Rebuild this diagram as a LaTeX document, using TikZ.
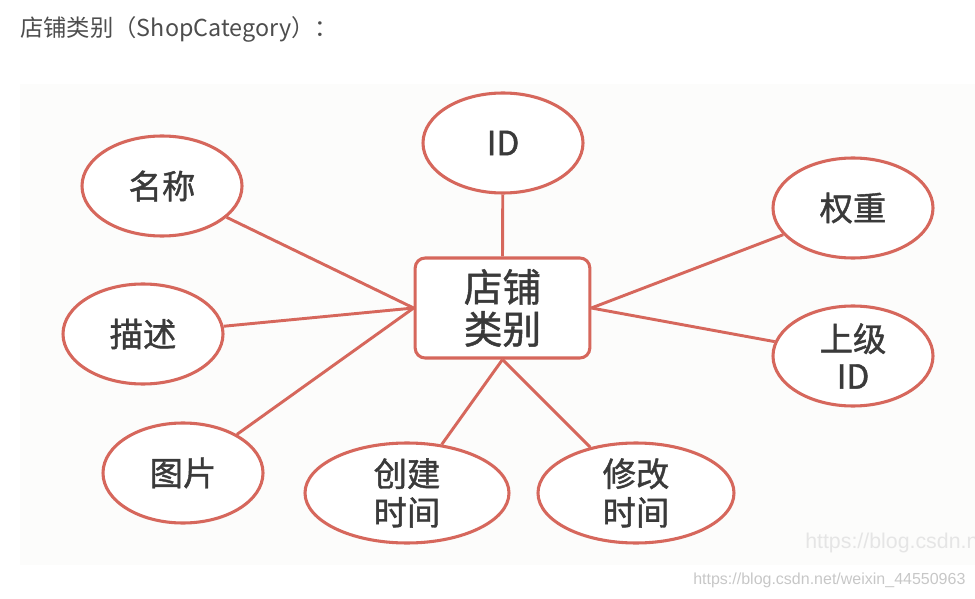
\documentclass[tikz,border=0pt]{standalone}
\usepackage{fontspec}
\setmainfont{Noto Sans CJK SC}
\setsansfont{Liberation Sans}
\newfontfamily\erfont{Noto Sans CJK SC}[FakeBold=1.2]
\usetikzlibrary{shapes.geometric}
\definecolor{erline}{HTML}{D6675C}
\definecolor{ertext}{HTML}{3A3A3A}
\definecolor{titletext}{HTML}{4D4D4D}
\definecolor{panel}{HTML}{FCFCFB}

\begin{document}
\begin{tikzpicture}[
    x=0.75pt, y=-0.75pt,
    attr/.style  ={ellipse, draw=erline, line width=2.3pt, fill=white,
                   inner sep=0pt, minimum width=120pt, minimum height=75pt,
                   align=center, text=ertext,
                   font=\erfont\fontsize{25}{28}\selectfont},
    entity/.style={rectangle, draw=erline, line width=2.3pt, fill=white,
                   rounded corners=7.5pt, inner sep=0pt,
                   minimum width=131pt, minimum height=75pt,
                   align=center, text=ertext,
                   font=\erfont\fontsize{29}{31.5}\selectfont},
    link/.style  ={draw=erline, line width=2.2pt},
    wmtext/.style={anchor=west, inner sep=0pt, font=\sffamily},
]
\useasboundingbox (0,0) rectangle (975,599);
\fill[panel] (20,84) rectangle (975,565);

\node[anchor=west, inner sep=0pt, text=titletext,
      font=\fontsize{17.5}{20}\selectfont] (title) at (20,29)
      {店铺类别（ShopCategory）：};

\node[entity] (shop) at (502.5,308) {店铺\\类别};

\node[attr] (id)       at (503,143) {ID};
\node[attr] (name)     at (162,186) {名称};
\node[attr] (desc)     at (143,334) {描述};
\node[attr] (pic)      at (183,473) {图片};
\node[attr, minimum width=153pt, font=\erfont\fontsize{25}{29}\selectfont]
            (created)  at (407,493) {创建\\时间};
\node[attr, minimum width=147pt, font=\erfont\fontsize{25}{29}\selectfont]
            (modified) at (636,493) {修改\\时间};
\node[attr] (weight)   at (853,208) {权重};
\node[attr] (parent)   at (853,356) {上级\\ID};

\draw[link] (id) -- (shop.north);
\draw[link] (name) -- (shop.west);
\draw[link] (desc) -- (shop.west);
\draw[link] (pic) -- (shop.west);
\draw[link] (shop.south) -- (created);
\draw[link] (shop.south) -- (modified);
\draw[link] (shop.east) -- (weight);
\draw[link] (shop.east) -- (parent);

\node[wmtext, text=black!10, font=\sffamily\fontsize{16}{19}\selectfont]
     (wmark) at (805,543) {https://blog.csdn.net};
\node[wmtext, text=black!22, font=\sffamily\fontsize{12}{14}\selectfont]
     (wurl) at (693,580) {https://blog.csdn.net/weixin\_44550963};
\end{tikzpicture}
\end{document}
